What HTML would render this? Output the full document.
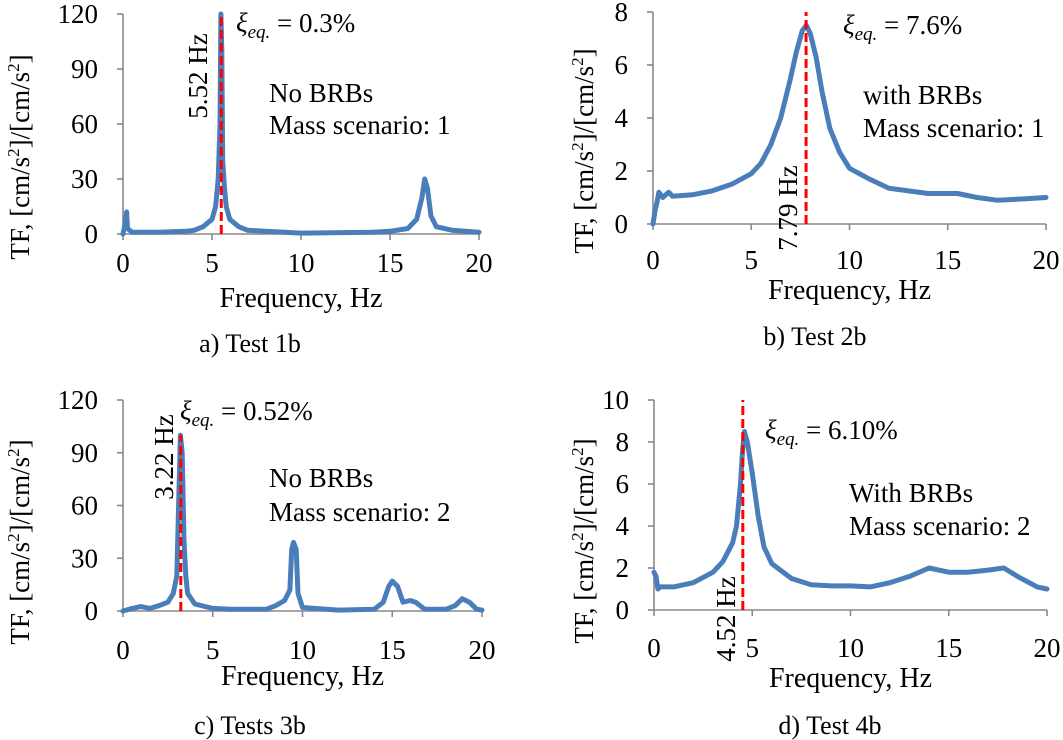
<!DOCTYPE html>
<html><head><meta charset="utf-8"><style>
html,body{margin:0;padding:0;background:#fff}
svg{display:block}
text{font-family:"Liberation Serif",serif;fill:#000}
</style></head><body>
<svg id="fig" width="1063" height="740" viewBox="0 0 1063 740" xmlns="http://www.w3.org/2000/svg"></svg>
<script>
const freqA=[0,0.1,0.2,0.25,0.5,2,3.5,4,4.5,5,5.2,5.35,5.45,5.5,5.55,5.6,5.7,5.8,6,6.5,7,8,10,14,15,16,16.5,16.8,16.95,17.1,17.3,17.6,18.5,20];
const valsA=[0,5,12,3,1,1,1.5,2,4,8,15,30,60,120,100,40,25,15,8,4,2,1.5,0.5,1,1.5,3,8,20,30,25,10,4,2,1];
const freqB=[0,0.1,0.2,0.3,0.5,0.8,1,2,3,4,5,5.5,6,6.5,7,7.3,7.6,7.8,8,8.3,8.6,9,9.5,10,11,12,13,14,15.5,16.5,17.5,19,20];
const valsB=[0,0.5,0.8,1.2,1,1.2,1.05,1.1,1.25,1.5,1.9,2.3,3,4,5.5,6.5,7.3,7.5,7.2,6.3,5,3.6,2.7,2.1,1.7,1.35,1.25,1.15,1.15,1,0.9,0.95,1];
const freqC=[0,0.5,1,1.5,2,2.5,2.8,3,3.1,3.2,3.3,3.4,3.5,3.6,4,5,6,8,8.5,9,9.3,9.4,9.5,9.65,9.75,10,12,14,14.5,14.8,15,15.3,15.6,16,16.3,16.8,18,18.5,18.9,19.3,19.7,20];
const valsC=[0,1.5,2.5,1.5,3,5,10,20,60,100,90,40,20,10,4,1.5,1,1,3,6,12,35,39,35,10,2,0.5,1,5,14,17,14,5,6,5,1,1,3,7,5,1,0.5];
const freqD=[0,0.1,0.2,0.3,1,2,3,3.5,4,4.2,4.4,4.5,4.6,4.75,5,5.3,5.6,6,7,8,9,10,11,12,13,14,15,16,17,17.8,18.5,19.5,20];
const valsD=[1.8,1.6,1,1.1,1.1,1.3,1.8,2.3,3.2,4,6,7.5,8.5,8,6.5,4.5,3,2.2,1.5,1.2,1.15,1.15,1.1,1.3,1.6,2,1.8,1.8,1.9,2,1.6,1.1,1];
const xTicks=[0,5,10,15,20];
const yTicksA=[0,30,60,90,120];
const yTicksB=[0,2,4,6,8];
const yTicksD=[0,2,4,6,8,10];

const NS="http://www.w3.org/2000/svg";
const svg=document.getElementById('fig');
function el(tag,attrs,parent,txt){const e=document.createElementNS(NS,tag);for(const k in attrs)e.setAttribute(k,attrs[k]);if(txt!==undefined)e.textContent=txt;(parent||svg).appendChild(e);return e;}
const FS=27;
const panels=[
 {id:'a',x0:123,x1:479,y0:234,y1:14,ymax:120,yt:yTicksA,f:freqA,v:valsA,peak:5.52,peakTop:120,
  tickLblY:272,freqY:307,capX:250,capY:352,cap:'a)  Test 1b',ytX:19,ytY:157,
  xiX:236,xiY:32,xi:'0.3%',l1:'No BRBs',l2:'Mass scenario:  1',lX:269,l1Y:102,l2Y:134,pk:'5.52 Hz',pkX:197,pkY:76},
 {id:'b',x0:653,x1:1046,y0:224,y1:12,ymax:8,yt:yTicksB,f:freqB,v:valsB,peak:7.79,peakTop:8.0,
  tickLblY:269,freqY:299,capX:815,capY:345,cap:'b)  Test 2b',ytX:583,ytY:151,
  xiX:843,xiY:34,xi:'7.6%',l1:'with BRBs',l2:'Mass scenario:  1',lX:863,l1Y:104,l2Y:137,pk:'7.79 Hz',pkX:787,pkY:208},
 {id:'c',x0:123,x1:482,y0:611,y1:400,ymax:120,yt:yTicksA,f:freqC,v:valsC,peak:3.22,peakTop:100,
  tickLblY:659,freqY:685,capX:250,capY:734,cap:'c)  Tests 3b',ytX:19,ytY:542,
  xiX:180,xiY:420,xi:'0.52%',l1:'No BRBs',l2:'Mass scenario:  2',lX:269,l1Y:487,l2Y:521,pk:'3.22 Hz',pkX:163,pkY:457},
 {id:'d',x0:654,x1:1047,y0:610,y1:400,ymax:10,yt:yTicksD,f:freqD,v:valsD,peak:4.52,peakTop:10,
  tickLblY:657,freqY:687,capX:830,capY:734,cap:'d)  Test 4b',ytX:583,ytY:541,
  xiX:765,xiY:439,xi:'6.10%',l1:'With BRBs',l2:'Mass scenario:  2',lX:849,l1Y:502,l2Y:535,pk:'4.52 Hz',pkX:725,pkY:619}
];

panels.forEach(p=>{
 const g=el('g',{});
 
 
 const X=f=>p.x0+(p.x1-p.x0)*f/20;
 const Y=v=>p.y0+(p.y1-p.y0)*v/p.ymax;
 const ya=el('line',{x1:p.x0,y1:p.y0,x2:p.x0,y2:p.y1,stroke:'#888','stroke-width':1.6},g);
 
 
 const xa=el('line',{x1:p.x0,y1:p.y0,x2:p.x1,y2:p.y0,stroke:'#888','stroke-width':1.6},g);
 
 
 p.yt.forEach(t=>{
  el('line',{x1:p.x0-6,y1:Y(t),x2:p.x0,y2:Y(t),stroke:'#888','stroke-width':1.6},g);
  const tl=el('text',{x:p.x0-25,y:Y(t)+9,'text-anchor':'end','font-size':FS},g,String(t));
  
  
 });
 xTicks.forEach(t=>{
  el('line',{x1:X(t),y1:p.y0,x2:X(t),y2:p.y0+6,stroke:'#888','stroke-width':1.6},g);
  const tl=el('text',{x:X(t),y:p.tickLblY,'text-anchor':'middle','font-size':FS},g,String(t));
  
  
 });
 const d=p.f.map((f,i)=>(i?'L':'M')+X(f).toFixed(1)+','+Y(p.v[i]).toFixed(1)).join('');
 const ln=el('path',{d:d,fill:'none',stroke:'#4a7ebb','stroke-width':5,'stroke-linejoin':'round','stroke-linecap':'round'},g);
 
 
 const pl=el('line',{x1:X(p.peak),y1:p.y0,x2:X(p.peak),y2:Y(p.peakTop),stroke:'#ff0000','stroke-width':3,'stroke-dasharray':'9,4'},g);
 
 
 const pk=el('text',{x:0,y:0,'text-anchor':'middle','font-size':FS,transform:`translate(${p.pkX+10},${p.pkY}) rotate(-90)`},g,p.pk);
 
 
 const xi=el('text',{x:p.xiX,y:p.xiY,'font-size':FS},g);
 
 
 el('tspan',{'font-style':'italic'},xi,'ξ');
 el('tspan',{'font-style':'italic','font-size':19,dy:6},xi,'eq.');
 el('tspan',{dy:-6},xi,' = '+p.xi);
 const l1=el('text',{x:p.lX,y:p.l1Y,'font-size':FS},g,p.l1);
 
 
 const l2=el('text',{x:p.lX,y:p.l2Y,'font-size':FS},g,p.l2);
 
 
 const xt=el('text',{x:(p.x0+p.x1)/2,y:p.freqY,'text-anchor':'middle','font-size':28},g,'Frequency, Hz');
 
 
 const yt=el('text',{x:0,y:0,'text-anchor':'middle','font-size':27,fill:'#333',transform:`translate(${p.ytX+10},${p.ytY}) rotate(-90)`},g);
 
 
 el('tspan',{},yt,'TF, [cm/s');
 el('tspan',{'font-size':17,dy:-10},yt,'2');
 el('tspan',{dy:10},yt,']/[cm/s');
 el('tspan',{'font-size':17,dy:-10},yt,'2');
 el('tspan',{dy:10},yt,']');
 const cp=el('text',{x:p.capX,y:p.capY,'text-anchor':'middle','font-size':26},g,p.cap);
 
 
});
</script>
</body></html>
